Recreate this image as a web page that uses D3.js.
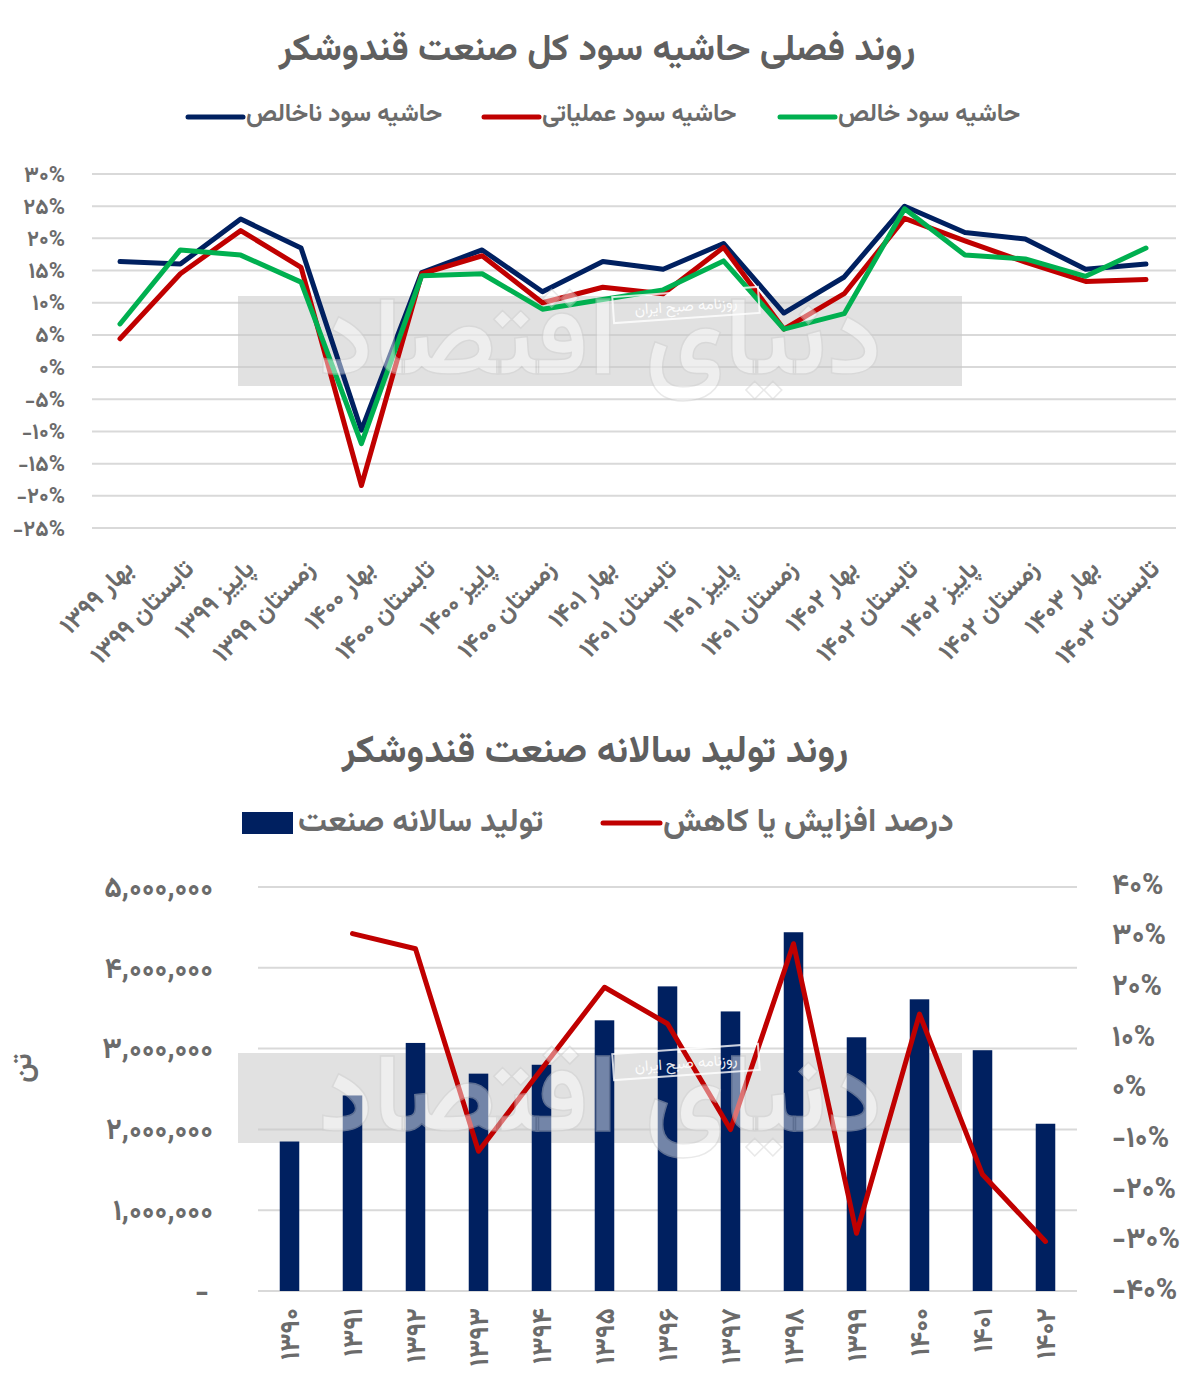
<!DOCTYPE html>
<html lang="fa">
<head>
<meta charset="utf-8">
<script src="https://cdn.jsdelivr.net/npm/d3@7"></script>
<style>
  html, body { margin: 0; padding: 0; background: #ffffff; }
  svg { display: block; }
  text { font-family: Vazirmatn, "Noto Sans Arabic", "DejaVu Sans", sans-serif; }
</style>
</head>
<body>
<svg id="chart" width="1200" height="1391"></svg>
<script>
// ---------- DATA ----------
const seasons = [
  "بهار ۱۳۹۹", "تابستان ۱۳۹۹", "پاییز ۱۳۹۹", "زمستان ۱۳۹۹",
  "بهار ۱۴۰۰", "تابستان ۱۴۰۰", "پاییز ۱۴۰۰", "زمستان ۱۴۰۰",
  "بهار ۱۴۰۱", "تابستان ۱۴۰۱", "پاییز ۱۴۰۱", "زمستان ۱۴۰۱",
  "بهار ۱۴۰۲", "تابستان ۱۴۰۲", "پاییز ۱۴۰۲", "زمستان ۱۴۰۲",
  "بهار ۱۴۰۳", "تابستان ۱۴۰۳"
];
const grossMargin     = [16.4, 16.0, 23.0, 18.5, -9.8, 14.7, 18.2, 11.7, 16.4, 15.2, 19.2, 8.4, 14.0, 25.0, 20.9, 19.9, 15.2, 16.0];
const operatingMargin = [4.4, 14.5, 21.2, 15.5, -18.4, 14.5, 17.3, 10.0, 12.4, 11.4, 18.6, 5.9, 11.4, 23.1, 19.6, 16.3, 13.3, 13.6];
const netMargin       = [6.7, 18.2, 17.4, 13.2, -11.9, 14.2, 14.5, 9.0, 10.5, 12.0, 16.5, 5.9, 8.3, 24.6, 17.4, 16.8, 14.1, 18.5];
const marginSeriesNames = ["حاشیه سود ناخالص", "حاشیه سود عملیاتی", "حاشیه سود خالص"];
const marginTicks = [30, 25, 20, 15, 10, 5, 0, -5, -10, -15, -20, -25];

const years = ["۱۳۹۰", "۱۳۹۱", "۱۳۹۲", "۱۳۹۳", "۱۳۹۴", "۱۳۹۵", "۱۳۹۶", "۱۳۹۷", "۱۳۹۸", "۱۳۹۹", "۱۴۰۰", "۱۴۰۱", "۱۴۰۲"];
const production = [1850000, 2420000, 3070000, 2690000, 2800000, 3350000, 3770000, 3460000, 4440000, 3140000, 3610000, 2980000, 2070000];
const changePct  = [null, 30.2, 27.2, -12.8, 3.4, 19.6, 12.4, -8.5, 28.2, -29.0, 14.3, -17.4, -30.6];
const productionTicks = [0, 1000000, 2000000, 3000000, 4000000, 5000000];
const pctTicks = [40, 30, 20, 10, 0, -10, -20, -30, -40];
const productionSeriesNames = ["تولید سالانه صنعت", "درصد افزایش یا کاهش"];

const title1 = "روند فصلی حاشیه سود کل صنعت قندوشکر";
const title2 = "روند تولید سالانه صنعت قندوشکر";
const unitLabel = "تن";

// ---------- HELPERS ----------
const faDigits = "۰۱۲۳۴۵۶۷۸۹";
const toFa = s => String(s).replace(/[0-9]/g, d => faDigits[+d]);
const pctFmt = d => (d < 0 ? "-" : "") + toFa(Math.abs(d)) + "%";
const numFmt = d => d === 0 ? "-" : toFa(d3.format(",")(d));
const FONT = 'Vazirmatn, "Noto Sans Arabic", "DejaVu Sans", sans-serif';

const NAVY = "#002060", RED = "#C00000", GREEN = "#00B050";
const GRID = "#d9d9d9", TXT = "#6b6b6b", TITLE = "#5f5f5f";

const svg = d3.select("#chart");

// ---------- WATERMARK ----------
function watermark(g, x, y) {
  g.append("rect").attr("x", x).attr("y", y).attr("width", 724).attr("height", 90)
    .attr("fill", "#c8c8c8").attr("opacity", 0.55);
}
function watermarkText(g, x, y) {
  g.append("text").attr("x", x + 362).attr("y", y + 78)
    .attr("text-anchor", "middle").attr("font-size", 110).attr("font-weight", "bold")
    .attr("fill", "#ffffff").attr("opacity", 0.45)
    .attr("stroke", "#cfcfcf").attr("stroke-width", 1.5)
    .text("دنیای اقتصاد");
  g.append("rect").attr("x", x + 375).attr("y", y - 4).attr("width", 146).attr("height", 26)
    .attr("fill", "none").attr("stroke", "#ffffff").attr("stroke-width", 2).attr("opacity", 0.8)
    .attr("transform", `rotate(-4, ${x + 448}, ${y + 9})`);
  g.append("text").attr("x", x + 448).attr("y", y + 15)
    .attr("text-anchor", "middle").attr("font-size", 15)
    .attr("fill", "#ffffff").attr("opacity", 0.9)
    .attr("transform", `rotate(-4, ${x + 448}, ${y + 9})`)
    .text("روزنامه صبح ایران");
}

// ---------- TOP CHART ----------
const topG = svg.append("g");
topG.append("text").attr("x", 597).attr("y", 60).attr("text-anchor", "middle")
  .attr("font-size", 37).attr("font-weight", "bold").attr("fill", TITLE).text(title1);

const x1 = d3.scalePoint().domain(seasons).range([120, 1146]);
const y1 = d3.scaleLinear().domain([-25, 30]).range([528, 174]);

topG.append("g").selectAll("line").data(marginTicks).join("line")
  .attr("x1", 92).attr("x2", 1176)
  .attr("y1", d => y1(d)).attr("y2", d => y1(d))
  .attr("stroke", GRID).attr("stroke-width", 2);

watermark(topG, 238, 296);

const yAx1 = topG.append("g").attr("transform", "translate(65,0)")
  .call(d3.axisLeft(y1).tickValues(marginTicks).tickFormat(pctFmt).tickSize(0).tickPadding(0));
yAx1.select(".domain").remove();
yAx1.selectAll("text").attr("font-size", 22).attr("font-weight", "bold").attr("fill", TXT)
  .style("font-family", FONT);

const xAx1 = topG.append("g").attr("transform", "translate(0,560)")
  .call(d3.axisBottom(x1).tickSize(0).tickPadding(0));
xAx1.select(".domain").remove();
xAx1.selectAll("text")
  .attr("font-size", 25).attr("font-weight", "bold").attr("fill", TXT)
  .style("font-family", FONT)
  .attr("text-anchor", "end").attr("dy", "0.7em").attr("y", 0).attr("x", 3)
  .attr("transform", "rotate(-45)");

const marginSeries = [
  { name: marginSeriesNames[0], values: grossMargin, color: NAVY },
  { name: marginSeriesNames[1], values: operatingMargin, color: RED },
  { name: marginSeriesNames[2], values: netMargin, color: GREEN }
];
const line1 = d3.line().x((d, i) => x1(seasons[i])).y(d => y1(d));
topG.append("g").selectAll("path").data(marginSeries).join("path")
  .attr("d", s => line1(s.values))
  .attr("fill", "none").attr("stroke", s => s.color)
  .attr("stroke-width", 5).attr("stroke-linejoin", "round").attr("stroke-linecap", "round");

watermarkText(topG, 238, 296);

const leg1 = [
  { s: marginSeries[2], lx: 780 },
  { s: marginSeries[1], lx: 484 },
  { s: marginSeries[0], lx: 188 }
];
const lg1 = topG.append("g");
leg1.forEach(o => {
  lg1.append("line").attr("x1", o.lx).attr("x2", o.lx + 55).attr("y1", 117).attr("y2", 117)
    .attr("stroke", o.s.color).attr("stroke-width", 5).attr("stroke-linecap", "round");
  lg1.append("text").attr("x", o.lx + 58).attr("y", 121).attr("text-anchor", "start")
    .attr("font-size", 24.5).attr("font-weight", "bold").attr("fill", TXT).text(o.s.name);
});

// ---------- BOTTOM CHART ----------
const botG = svg.append("g");
botG.append("text").attr("x", 595).attr("y", 762).attr("text-anchor", "middle")
  .attr("font-size", 38).attr("font-weight", "bold").attr("fill", TITLE).text(title2);

const x2 = d3.scaleBand().domain(years).range([258, 1077]).paddingInner(0.69).paddingOuter(0.345);
const y2 = d3.scaleLinear().domain([0, 5000000]).range([1291, 887]);
const y3 = d3.scaleLinear().domain([-40, 40]).range([1289, 884]);

botG.append("g").selectAll("line").data(productionTicks).join("line")
  .attr("x1", 258).attr("x2", 1077)
  .attr("y1", d => y2(d)).attr("y2", d => y2(d))
  .attr("stroke", GRID).attr("stroke-width", 2);

watermark(botG, 238, 1053);

const yAx2 = botG.append("g").attr("transform", "translate(213,0)")
  .call(d3.axisLeft(y2).tickValues(productionTicks).tickFormat(numFmt).tickSize(0).tickPadding(0));
yAx2.select(".domain").remove();
yAx2.selectAll("text").attr("font-size", 29).attr("font-weight", "bold").attr("fill", TXT)
  .attr("letter-spacing", 4)
  .style("font-family", FONT);

const yAx3 = botG.append("g").attr("transform", "translate(1112,0)")
  .call(d3.axisRight(y3).tickValues(pctTicks).tickFormat(pctFmt).tickSize(0).tickPadding(0));
yAx3.select(".domain").remove();
yAx3.selectAll("text").attr("font-size", 29).attr("font-weight", "bold").attr("fill", TXT)
  .attr("letter-spacing", 4)
  .style("font-family", FONT);

botG.append("text").attr("transform", "translate(24,1068) rotate(-90)")
  .attr("text-anchor", "middle").attr("dominant-baseline", "central")
  .attr("font-size", 28).attr("font-weight", "bold")
  .attr("fill", TXT).text(unitLabel);

botG.append("g").selectAll("rect").data(production).join("rect")
  .attr("x", (d, i) => x2(years[i])).attr("width", x2.bandwidth())
  .attr("y", d => y2(d)).attr("height", d => y2(0) - y2(d))
  .attr("fill", NAVY);

const xAx2 = botG.append("g").attr("transform", "translate(0,1308)")
  .call(d3.axisBottom(x2).tickSize(0).tickPadding(0));
xAx2.select(".domain").remove();
xAx2.selectAll("text")
  .attr("font-size", 27).attr("font-weight", "bold").attr("fill", TXT)
  .attr("letter-spacing", 4)
  .style("font-family", FONT)
  .attr("text-anchor", "end").attr("dy", "0.35em").attr("y", 0).attr("x", 0)
  .attr("transform", "rotate(-90)");

const pctPts = changePct.map((v, i) => ({ v, i })).filter(p => p.v !== null);
const line2 = d3.line().x(p => x2(years[p.i]) + x2.bandwidth() / 2).y(p => y3(p.v));
botG.append("path").attr("d", line2(pctPts))
  .attr("fill", "none").attr("stroke", RED).attr("stroke-width", 5)
  .attr("stroke-linejoin", "round").attr("stroke-linecap", "round");

watermarkText(botG, 238, 1053);

const lg2 = botG.append("g");
lg2.append("line").attr("x1", 603).attr("x2", 660).attr("y1", 823).attr("y2", 823)
  .attr("stroke", RED).attr("stroke-width", 5).attr("stroke-linecap", "round");
lg2.append("text").attr("x", 663).attr("y", 831).attr("font-size", 32).attr("font-weight", "bold")
  .attr("fill", TXT).text(productionSeriesNames[1]);
lg2.append("rect").attr("x", 242).attr("y", 812).attr("width", 51).attr("height", 22).attr("fill", NAVY);
lg2.append("text").attr("x", 298).attr("y", 831).attr("font-size", 32).attr("font-weight", "bold")
  .attr("fill", TXT).text(productionSeriesNames[0]);
</script>
</body>
</html>
